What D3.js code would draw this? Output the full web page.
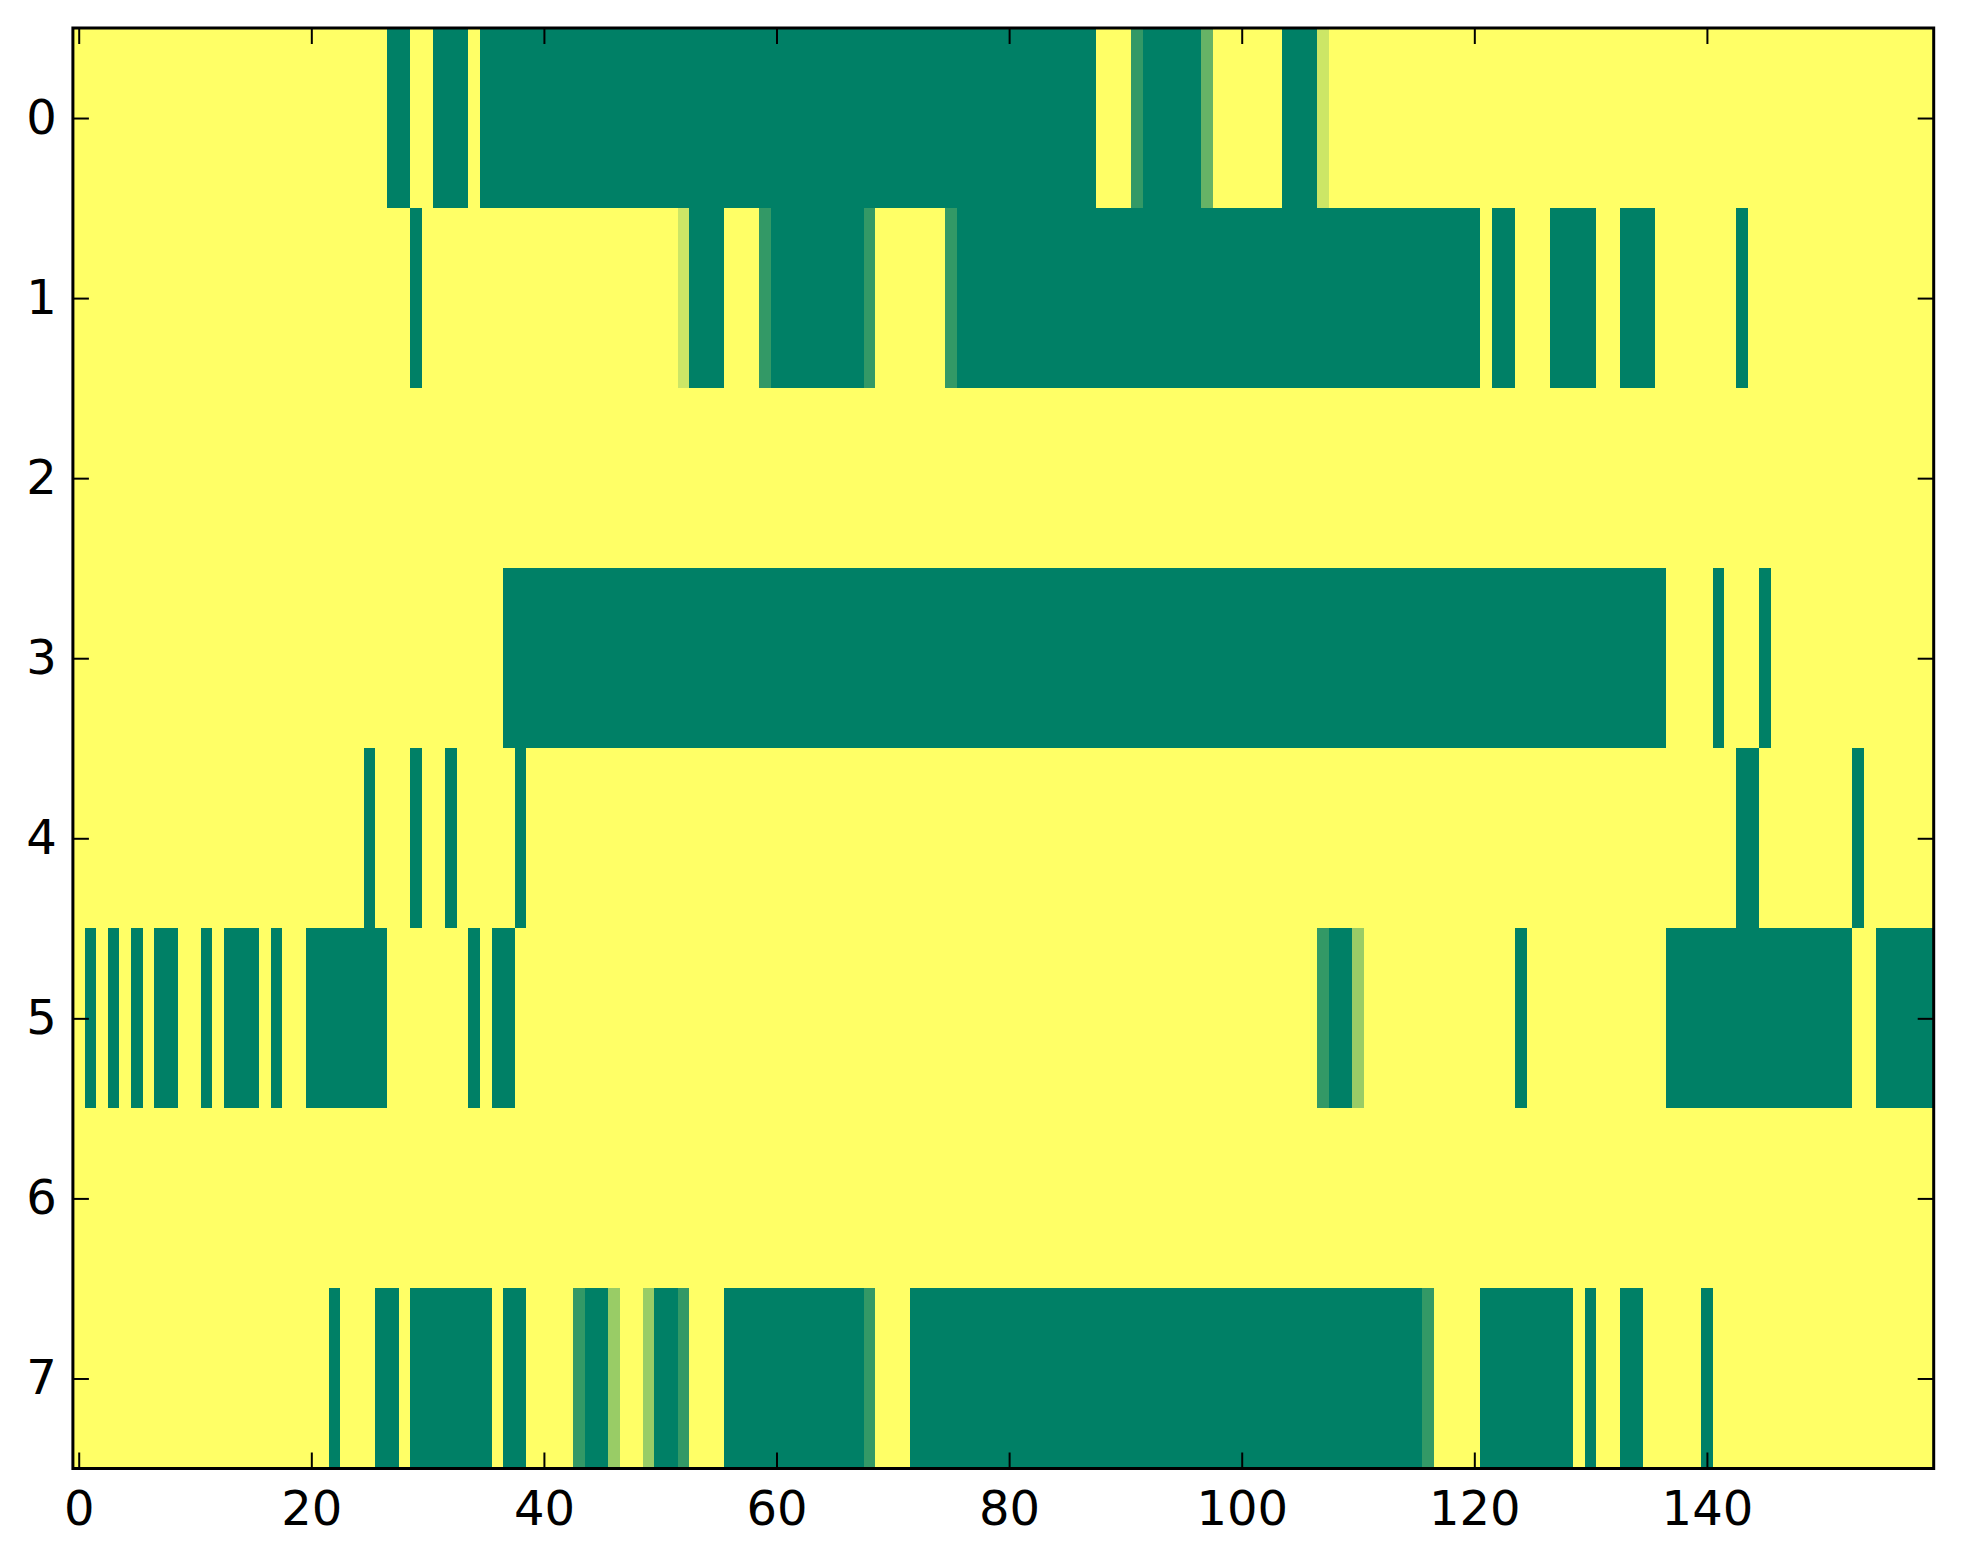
<!DOCTYPE html>
<html>
<head>
<meta charset="utf-8">
<script src="https://cdn.jsdelivr.net/npm/d3@7"></script>
<style>
  html, body { margin: 0; padding: 0; background: #ffffff; }
  svg { display: block; }
  text { font-family: "DejaVu Sans", sans-serif; }
</style>
</head>
<body>
<svg id="chart" width="1963" height="1564"></svg>
<script>
// Row labels (y categories) and column ticks
const rowLabels = [0, 1, 2, 3, 4, 5, 6, 7];
const xTickValues = [0, 20, 40, 60, 80, 100, 120, 140];
const nCols = 160;

// Cell values per row (0 = green, 1 = yellow, summer colormap), 160 columns each
const row0 = [
  1,1,1,1,1,1,1,1,1,1,1,1,1,1,1,1,1,1,1,1,
  1,1,1,1,1,1,1,0,0,1,1,0,0,0,1,0,0,0,0,0,
  0,0,0,0,0,0,0,0,0,0,0,0,0,0,0,0,0,0,0,0,
  0,0,0,0,0,0,0,0,0,0,0,0,0,0,0,0,0,0,0,0,
  0,0,0,0,0,0,0,0,1,1,1,0.2,0,0,0,0,0,0.4,1,1,
  1,1,1,1,0,0,0,0.8,1,1,1,1,1,1,1,1,1,1,1,1,
  1,1,1,1,1,1,1,1,1,1,1,1,1,1,1,1,1,1,1,1,
  1,1,1,1,1,1,1,1,1,1,1,1,1,1,1,1,1,1,1,1
];
const row1 = [
  1,1,1,1,1,1,1,1,1,1,1,1,1,1,1,1,1,1,1,1,
  1,1,1,1,1,1,1,1,1,0,1,1,1,1,1,1,1,1,1,1,
  1,1,1,1,1,1,1,1,1,1,1,1,0.8,0,0,0,1,1,1,0.2,
  0,0,0,0,0,0,0,0,0.2,1,1,1,1,1,1,0.2,0,0,0,0,
  0,0,0,0,0,0,0,0,0,0,0,0,0,0,0,0,0,0,0,0,
  0,0,0,0,0,0,0,0,0,0,0,0,0,0,0,0,0,0,0,0,
  0,1,0,0,1,1,1,0,0,0,0,1,1,0,0,0,1,1,1,1,
  1,1,1,0,1,1,1,1,1,1,1,1,1,1,1,1,1,1,1,1
];
const row2 = [
  1,1,1,1,1,1,1,1,1,1,1,1,1,1,1,1,1,1,1,1,
  1,1,1,1,1,1,1,1,1,1,1,1,1,1,1,1,1,1,1,1,
  1,1,1,1,1,1,1,1,1,1,1,1,1,1,1,1,1,1,1,1,
  1,1,1,1,1,1,1,1,1,1,1,1,1,1,1,1,1,1,1,1,
  1,1,1,1,1,1,1,1,1,1,1,1,1,1,1,1,1,1,1,1,
  1,1,1,1,1,1,1,1,1,1,1,1,1,1,1,1,1,1,1,1,
  1,1,1,1,1,1,1,1,1,1,1,1,1,1,1,1,1,1,1,1,
  1,1,1,1,1,1,1,1,1,1,1,1,1,1,1,1,1,1,1,1
];
const row3 = [
  1,1,1,1,1,1,1,1,1,1,1,1,1,1,1,1,1,1,1,1,
  1,1,1,1,1,1,1,1,1,1,1,1,1,1,1,1,1,0,0,0,
  0,0,0,0,0,0,0,0,0,0,0,0,0,0,0,0,0,0,0,0,
  0,0,0,0,0,0,0,0,0,0,0,0,0,0,0,0,0,0,0,0,
  0,0,0,0,0,0,0,0,0,0,0,0,0,0,0,0,0,0,0,0,
  0,0,0,0,0,0,0,0,0,0,0,0,0,0,0,0,0,0,0,0,
  0,0,0,0,0,0,0,0,0,0,0,0,0,0,0,0,0,1,1,1,
  1,0,1,1,1,0,1,1,1,1,1,1,1,1,1,1,1,1,1,1
];
const row4 = [
  1,1,1,1,1,1,1,1,1,1,1,1,1,1,1,1,1,1,1,1,
  1,1,1,1,1,0,1,1,1,0,1,1,0,1,1,1,1,1,0,1,
  1,1,1,1,1,1,1,1,1,1,1,1,1,1,1,1,1,1,1,1,
  1,1,1,1,1,1,1,1,1,1,1,1,1,1,1,1,1,1,1,1,
  1,1,1,1,1,1,1,1,1,1,1,1,1,1,1,1,1,1,1,1,
  1,1,1,1,1,1,1,1,1,1,1,1,1,1,1,1,1,1,1,1,
  1,1,1,1,1,1,1,1,1,1,1,1,1,1,1,1,1,1,1,1,
  1,1,1,0,0,1,1,1,1,1,1,1,1,0,1,1,1,1,1,1
];
const row5 = [
  1,0,1,0,1,0,1,0,0,1,1,0,1,0,0,0,1,0,1,1,
  0,0,0,0,0,0,0,1,1,1,1,1,1,1,0,1,0,0,1,1,
  1,1,1,1,1,1,1,1,1,1,1,1,1,1,1,1,1,1,1,1,
  1,1,1,1,1,1,1,1,1,1,1,1,1,1,1,1,1,1,1,1,
  1,1,1,1,1,1,1,1,1,1,1,1,1,1,1,1,1,1,1,1,
  1,1,1,1,1,1,1,0.2,0,0,0.6,1,1,1,1,1,1,1,1,1,
  1,1,1,1,0,1,1,1,1,1,1,1,1,1,1,1,1,0,0,0,
  0,0,0,0,0,0,0,0,0,0,0,0,0,1,1,0,0,0,0,0
];
const row6 = [
  1,1,1,1,1,1,1,1,1,1,1,1,1,1,1,1,1,1,1,1,
  1,1,1,1,1,1,1,1,1,1,1,1,1,1,1,1,1,1,1,1,
  1,1,1,1,1,1,1,1,1,1,1,1,1,1,1,1,1,1,1,1,
  1,1,1,1,1,1,1,1,1,1,1,1,1,1,1,1,1,1,1,1,
  1,1,1,1,1,1,1,1,1,1,1,1,1,1,1,1,1,1,1,1,
  1,1,1,1,1,1,1,1,1,1,1,1,1,1,1,1,1,1,1,1,
  1,1,1,1,1,1,1,1,1,1,1,1,1,1,1,1,1,1,1,1,
  1,1,1,1,1,1,1,1,1,1,1,1,1,1,1,1,1,1,1,1
];
const row7 = [
  1,1,1,1,1,1,1,1,1,1,1,1,1,1,1,1,1,1,1,1,
  1,1,0,1,1,1,0,0,1,0,0,0,0,0,0,0,1,0,0,1,
  1,1,1,0.2,0,0,0.6,1,1,0.6,0,0,0.2,1,1,1,0,0,0,0,
  0,0,0,0,0,0,0,0,0.2,1,1,1,0,0,0,0,0,0,0,0,
  0,0,0,0,0,0,0,0,0,0,0,0,0,0,0,0,0,0,0,0,
  0,0,0,0,0,0,0,0,0,0,0,0,0,0,0,0,0.2,1,1,1,
  1,0,0,0,0,0,0,0,0,1,0,1,1,0,0,1,1,1,1,1,
  0,1,1,1,1,1,1,1,1,1,1,1,1,1,1,1,1,1,1,1
];
const rows = [row0, row1, row2, row3, row4, row5, row6, row7];

// Layout
const W = 1963, H = 1564;
const plot = { left: 72.9, right: 1933.7, top: 28, bottom: 1468.5 };

const svg = d3.select("#chart");
svg.append("rect").attr("width", W).attr("height", H).attr("fill", "#ffffff");

const x = d3.scaleLinear().domain([-0.5, nCols - 0.5]).range([plot.left, plot.right]);
const y = d3.scaleLinear().domain([-0.5, rowLabels.length - 0.5]).range([plot.top, plot.bottom]);

// matplotlib "summer" colormap: (v, 0.5 + v/2, 0.4)
const color = d3.scaleLinear().domain([0, 1]).range(["#008066", "#ffff66"]).interpolate(d3.interpolateRgb);

const cells = [];
rows.forEach((r, ri) => r.forEach((v, ci) => cells.push({ r: rowLabels[ri], c: ci, v })));

svg.append("g")
  .attr("shape-rendering", "crispEdges")
  .selectAll("rect")
  .data(cells)
  .join("rect")
  .attr("x", d => x(d.c - 0.5))
  .attr("y", d => y(d.r - 0.5))
  .attr("width", d => x(d.c + 0.5) - x(d.c - 0.5))
  .attr("height", d => y(d.r + 0.5) - y(d.r - 0.5))
  .attr("fill", d => color(d.v));

// Axes (ticks inward on all four sides)
const tickLen = 16;
const fontSize = 48;

function styleAxis(g) {
  g.select(".domain").remove();
  g.selectAll(".tick line").attr("stroke", "#000").attr("stroke-width", 2);
  g.selectAll(".tick text").attr("fill", "#000").style("font-size", fontSize + "px")
    .style("font-family", "'DejaVu Sans', sans-serif");
}

svg.append("g")
  .attr("transform", `translate(0,${plot.bottom})`)
  .call(d3.axisBottom(x).tickValues(xTickValues).tickFormat(d3.format("d"))
    .tickSizeInner(-tickLen).tickSizeOuter(0).tickPadding(22))
  .call(styleAxis);

svg.append("g")
  .attr("transform", `translate(0,${plot.top})`)
  .call(d3.axisTop(x).tickValues(xTickValues).tickFormat("")
    .tickSizeInner(-tickLen).tickSizeOuter(0))
  .call(styleAxis);

svg.append("g")
  .attr("transform", `translate(${plot.left},0)`)
  .call(d3.axisLeft(y).tickValues(rowLabels).tickFormat(d3.format("d"))
    .tickSizeInner(-tickLen).tickSizeOuter(0).tickPadding(16))
  .call(styleAxis);

svg.append("g")
  .attr("transform", `translate(${plot.right},0)`)
  .call(d3.axisRight(y).tickValues(rowLabels).tickFormat("")
    .tickSizeInner(-tickLen).tickSizeOuter(0))
  .call(styleAxis);

// Frame (spines)
svg.append("rect")
  .attr("x", plot.left).attr("y", plot.top)
  .attr("width", plot.right - plot.left).attr("height", plot.bottom - plot.top)
  .attr("fill", "none").attr("stroke", "#000").attr("stroke-width", 3);
</script>
</body>
</html>
